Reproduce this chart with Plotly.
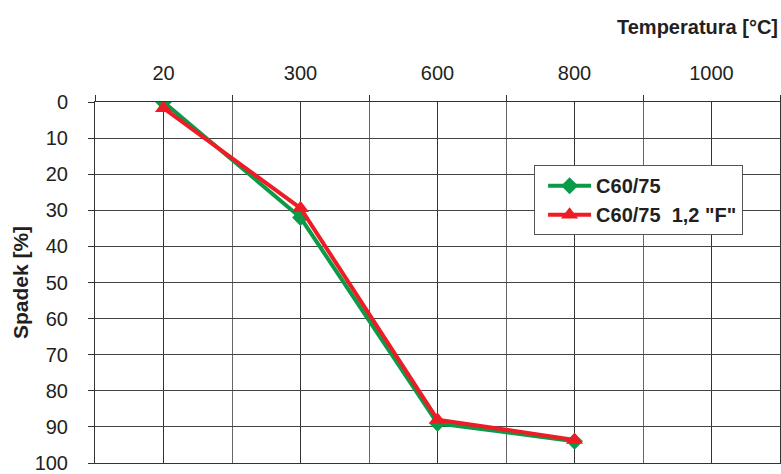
import plotly.graph_objects as go

temps = ["20", "300", "600", "800", "1000"]
series_names = ["C60/75", "C60/75  1,2 \"F\""]
green_vals = [0, 32, 89, 94]
red_vals = [1.7, 29.4, 88, 93.6]
y_ticks = [0, 10, 20, 30, 40, 50, 60, 70, 80, 90, 100]

FONT = "Liberation Sans, Arial, sans-serif"
TXT = "#231f20"

xi = list(range(len(temps)))

fig = go.Figure()
fig.add_trace(go.Scatter(
    x=xi[:len(green_vals)], y=green_vals, name=series_names[0], mode="lines+markers",
    line=dict(color="#0a9a48", width=4),
    marker=dict(symbol="diamond", size=13, color="#0a9a48"),
))
fig.add_trace(go.Scatter(
    x=xi[:len(red_vals)], y=red_vals, name=series_names[1], mode="lines+markers",
    line=dict(color="#ee1c25", width=4),
    marker=dict(symbol="triangle-up", size=15, color="#ee1c25"),
))

fig.update_layout(
    width=781, height=474,
    margin=dict(l=95, r=1, t=102, b=11, autoexpand=False),
    paper_bgcolor="white", plot_bgcolor="white",
    font=dict(family=FONT, size=20, color=TXT),
    showlegend=True,
    legend=dict(
        x=0.641, y=0.825, xanchor="left", yanchor="top",
        bgcolor="white", bordercolor="#555", borderwidth=1,
        font=dict(family=FONT, size=20, color=TXT, weight="bold"),
        tracegroupgap=0, indentation=8, itemwidth=43,
    ),
    xaxis=dict(
        side="top", range=[-0.5, 4.5], automargin=False,
        tickmode="array", tickvals=xi, ticktext=temps,
        ticks="", showgrid=True, gridcolor="#333", gridwidth=1,
        showline=True, mirror=True, linecolor="#333", linewidth=1, zeroline=False,
        minor=dict(tickmode="linear", tick0=-0.5, dtick=1, ticks="outside",
                   ticklen=6, tickcolor="#333", showgrid=True, gridcolor="#666", gridwidth=1),
        tickfont=dict(size=20), ticklabelstandoff=13,
    ),
    yaxis=dict(
        range=[100, 0], autorange=False, automargin=False,
        tickmode="array", tickvals=y_ticks,
        ticks="outside", ticklen=6, tickcolor="#333",
        showgrid=True, gridcolor="#444", gridwidth=1,
        showline=True, mirror=True, linecolor="#333", linewidth=1, zeroline=False,
        tickfont=dict(size=20), ticklabelstandoff=16,
        title=dict(text="Spadek [%]", font=dict(family=FONT, size=21, weight="bold"), standoff=0),
    ),
    annotations=[dict(
        text="Temperatura [°C]", xref="paper", yref="paper",
        x=1.0, y=1.0, yshift=75, xanchor="right", yanchor="middle", showarrow=False,
        font=dict(family=FONT, size=20, weight="bold", color=TXT),
    )],
)

fig.write_html(
    "out.html",
    config={"displayModeBar": False},
    post_script="document.body.style.margin='0';document.body.style.padding='0';",
)
